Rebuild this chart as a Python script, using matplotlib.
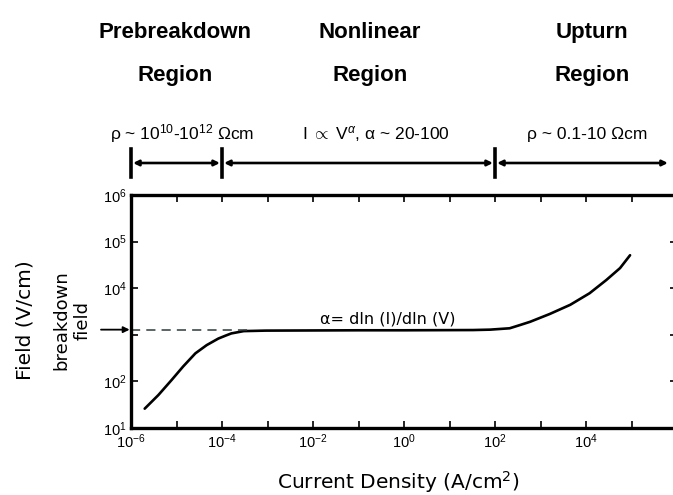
import matplotlib
matplotlib.use("Agg")
import matplotlib.pyplot as plt

plt.rcParams['font.family'] = ['Liberation Sans', 'DejaVu Sans']
plt.rcParams['mathtext.fontset'] = 'custom'
plt.rcParams['mathtext.rm'] = 'Liberation Sans'
plt.rcParams['mathtext.it'] = 'Liberation Sans:italic'
plt.rcParams['mathtext.bf'] = 'Liberation Sans:bold'

# field vs current density of a ZnO varistor
current_density = [2.0e-6, 4.0e-6, 7.8e-6, 1.4e-5, 2.6e-5, 4.6e-5, 8.3e-5,
                   1.2e-4, 1.6e-4, 3.0e-4, 9.0e-4, 1e-2, 1e-1, 1.0, 10.0, 33.0,
                   78.0, 210.0, 355.0, 590.0, 1.6e3, 4.5e3, 1.2e4, 2.8e4,
                   5.6e4, 9.3e4]
field = [26, 51, 107, 209, 400, 600, 830,
         960, 1070, 1200, 1230, 1240, 1250, 1250, 1260, 1265,
         1290, 1380, 1620, 1900, 2800, 4400, 7800, 15000,
         27000, 51000]

breakdown_field = 1290
breakdown_end = 4.2e-4

x_ticks = [1e-6, 1e-5, 1e-4, 1e-3, 1e-2, 1e-1, 1e0, 1e1, 1e2, 1e3, 1e4, 1e5, 1e6]
x_tick_labels = ['$10^{-6}$', '', '$10^{-4}$', '', '$10^{-2}$', '', '$10^{0}$',
                 '', '$10^{2}$', '', '$10^{4}$', '', '']
y_ticks = [1e1, 1e2, 1e3, 1e4, 1e5, 1e6]
y_tick_labels = ['$10^{1}$', '$10^{2}$', '', '$10^{4}$', '$10^{5}$', '$10^{6}$']

region_edges = [1e-6, 1e-4, 1e2, 7e5]
region_names = ['Prebreakdown', 'Nonlinear', 'Upturn']
region_notes = [r'ρ ~ 10$^{10}$-10$^{12}$ Ωcm',
                r'I $\propto$ V$^{α}$, α ~ 20-100',
                r'ρ ~ 0.1-10 Ωcm']

W, H = 673, 495
fig = plt.figure(figsize=(W / 100, H / 100), dpi=100)
ax = fig.add_axes([131 / W, 1 - 428 / H, 546 / W, 233 / H])


def fx(px):
    return px / W


def fy(py):
    return 1 - py / H


ax.plot(current_density, field, color='black', lw=1.9, solid_capstyle='round')
ax.plot([1e-6, breakdown_end], [breakdown_field, breakdown_field],
        color='#2f3b3b', lw=1.1, dashes=(6, 4))

ax.set_xscale('log')
ax.set_yscale('log')
ax.set_xlim(1e-6, 1e6)
ax.set_ylim(1e1, 1e6)
ax.set_xticks(x_ticks)
ax.set_xticklabels(x_tick_labels)
ax.set_yticks(y_ticks)
ax.set_yticklabels(y_tick_labels)
ax.minorticks_off()
ax.tick_params(direction='in', length=5, width=1.2, top=True, right=True,
               labelsize=10.5, pad=3)
for s in ax.spines.values():
    s.set_linewidth(2.4)

ax.text(0.43, 2150, r'α= dln (I)/dln (V)', fontsize=11.5, ha='center',
        va='center', family='DejaVu Sans')

# breakdown field arrow on the left
ax.annotate('', xy=(1e-6, breakdown_field), xycoords='data',
            xytext=(-30, 0), textcoords='offset pixels',
            arrowprops=dict(arrowstyle='-|>', color='black', lw=1.3,
                            mutation_scale=9, shrinkA=0, shrinkB=1),
            annotation_clip=False)

# region span arrows above the plot
trans = ax.get_xaxis_transform()
y_arrow = (H - 163 - (H - 428)) / 233
for a, b in zip(region_edges[:-1], region_edges[1:]):
    ax.annotate('', xy=(a, y_arrow), xycoords=trans, xytext=(b, y_arrow),
                textcoords=trans,
                arrowprops=dict(arrowstyle='<|-|>', color='black', lw=1.9,
                                mutation_scale=8, shrinkA=1.5, shrinkB=1.5),
                annotation_clip=False)
for e in region_edges[:-1]:
    ax.plot([e, e], [y_arrow - 0.06, y_arrow + 0.06], color='black', lw=2.6,
            transform=trans, clip_on=False)

for name, x in zip(region_names, [175, 370, 592]):
    fig.text(fx(x), fy(38), name, fontsize=16, fontweight='bold',
             ha='center', va='baseline')
    fig.text(fx(x), fy(81), 'Region', fontsize=16, fontweight='bold',
             ha='center', va='baseline')
for note, x in zip(region_notes, [182, 376, 587]):
    fig.text(fx(x), fy(134), note, fontsize=12.5, ha='center', va='center')

fig.text(fx(25), fy(320), 'Field (V/cm)', fontsize=14.5, rotation=90,
         ha='center', va='center', family='DejaVu Sans')
fig.text(fx(72), fy(320), 'breakdown\nfield', fontsize=13, rotation=90,
         ha='center', va='center', multialignment='center', linespacing=1.3,
         family='DejaVu Sans')
fig.text(fx(398), fy(482), 'Current Density (A/cm$^{2}$)', fontsize=14.5,
         ha='center', va='center', family='DejaVu Sans',
         math_fontfamily='dejavusans')

fig.savefig('out.png', dpi=100)
